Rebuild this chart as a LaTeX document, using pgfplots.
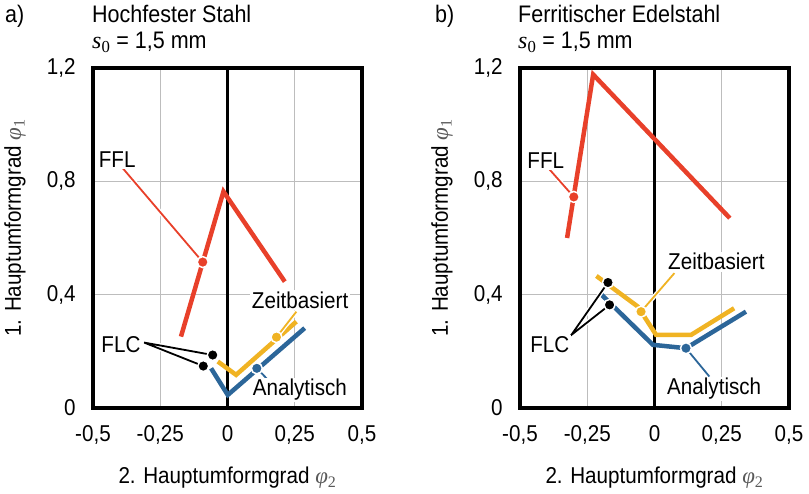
\documentclass[border=0pt]{standalone}
\usepackage{pgfplots}
\pgfplotsset{compat=1.18}
\usepackage{fontspec}
\setmainfont{Liberation Sans}[FakeStretch=0.9]
\newfontfamily\serif{Liberation Serif}
\definecolor{cred}{HTML}{E8402A}
\definecolor{cyel}{HTML}{F0B323}
\definecolor{cblue}{HTML}{2C6699}
\definecolor{cgrid}{HTML}{BDBDBD}
\newcommand\fs{\fontsize{23}{27}\selectfont}
\newcommand\ft{\fontsize{24}{28}\selectfont}
\newcommand\phisym[1]{{\serif\itshape\color{black!65}φ}{\serif\color{black!65}\textsubscript{#1}}}
\tikzset{lab/.style={font=\fs, fill=white, inner sep=1.5bp}}
\pgfplotsset{
 panel/.style={
  width=269bp, height=340bp, scale only axis,
  xmin=-0.5, xmax=0.5, ymin=0, ymax=1.2,
  xtick={-0.5,-0.25,0,0.25,0.5},
  xticklabels={{-0,5},{-0,25},{0},{0,25},{0,5}},
  ytick={0,0.4,0.8,1.2},
  yticklabels={{0},{0,4},{0,8},{1,2}},
  grid=major, major grid style={cgrid, line width=1.3bp},
  major tick length=0pt,
  axis line style={line width=4bp, black},
  tick label style={font=\fs},
  xticklabel style={yshift=-14bp},
  yticklabel style={xshift=-14bp},
  label style={font=\fs},
  xlabel={2. Hauptumformgrad \phisym{2}},
  ylabel={1. Hauptumformgrad \phisym{1}},
  xlabel style={at={(axis description cs:0.5,-0.205)}, anchor=center},
  ylabel style={at={(axis description cs:-0.29,0.53)}, anchor=center},
  clip=false,
 },
 zero/.style={black, line width=3bp, forget plot},
 curve/.style={line width=4.5bp, forget plot},
 leader/.style={line width=1.8bp, forget plot, preaction={draw=white, line width=4.5bp}},
 dot/.style={only marks, mark=*, mark size=5.5bp, forget plot, mark options={fill=#1, draw=white, line width=1.5bp}},
}
\begin{document}
\begin{tikzpicture}
% ---------------- panel a ----------------
\begin{axis}[panel, at={(93bp,86bp)}, anchor=south west]
\addplot[zero] coordinates {(0,0) (0,1.2)};
\addplot[curve, cred] coordinates {(-0.173,0.252) (-0.015,0.764) (0.213,0.446)};
\addplot[curve, cblue] coordinates {(-0.061,0.140) (0.001,0.046) (0.287,0.282)};
\addplot[curve, cyel] coordinates {(-0.036,0.164) (0.032,0.117) (0.256,0.305)};
\addplot[leader, cred] coordinates {(-0.092,0.515) (-0.39,0.847)};
\addplot[leader, cyel] coordinates {(0.182,0.250) (0.256,0.34)};
\addplot[leader, cblue] coordinates {(0.109,0.140) (0.157,0.093)};
\addplot[leader, black] coordinates {(-0.055,0.187) (-0.31,0.231) (-0.09,0.148)};
\addplot[dot=cred] coordinates {(-0.092,0.515)};
\addplot[dot=cyel] coordinates {(0.182,0.250)};
\addplot[dot=cblue] coordinates {(0.109,0.140)};
\addplot[dot=black] coordinates {(-0.055,0.187) (-0.09,0.148)};
\node[lab] at (axis cs:-0.41,0.876) {FFL};
\node[lab] at (axis cs:0.27,0.38) {Zeitbasiert};
\node[lab] at (axis cs:0.269,0.064) {Analytisch};
\node[lab] at (axis cs:-0.396,0.223) {FLC};
\end{axis}
% ---------------- panel b ----------------
\begin{axis}[panel, at={(520bp,86bp)}, anchor=south west]
\addplot[zero] coordinates {(0,0) (0,1.2)};
\addplot[curve, cred] coordinates {(-0.325,0.60) (-0.228,1.177) (0.28,0.67)};
\addplot[curve, cyel] coordinates {(-0.216,0.466) (-0.062,0.358) (0.006,0.258) (0.136,0.258) (0.296,0.352)};
\addplot[curve, cblue] coordinates {(-0.197,0.40) (-0.006,0.223) (0.117,0.211) (0.34,0.34)};
\addplot[leader, cred] coordinates {(-0.30,0.745) (-0.395,0.847)};
\addplot[leader, cyel] coordinates {(-0.05,0.340) (0.074,0.476)};
\addplot[leader, cblue] coordinates {(0.117,0.211) (0.204,0.111)};
\addplot[leader, black] coordinates {(-0.173,0.443) (-0.309,0.258) (-0.167,0.364)};
\addplot[dot=cred] coordinates {(-0.30,0.745)};
\addplot[dot=cyel] coordinates {(-0.05,0.340)};
\addplot[dot=cblue] coordinates {(0.117,0.211)};
\addplot[dot=black] coordinates {(-0.173,0.443) (-0.167,0.364)};
\node[lab] at (axis cs:-0.404,0.873) {FFL};
\node[lab] at (axis cs:0.23,0.516) {Zeitbasiert};
\node[lab] at (axis cs:0.222,0.067) {Analytisch};
\node[lab] at (axis cs:-0.389,0.223) {FLC};
\end{axis}
% ---------------- titles ----------------
\begin{scope}[every node/.style={anchor=base west, inner sep=0pt, font=\ft}]
\node at (5bp,471bp) {a)};
\node at (92bp,471bp) {Hochfester Stahl};
\node at (92bp,445bp) {{\serif\itshape s}{\serif\textsubscript{0}} = 1,5 mm};
\node at (435bp,471bp) {b)};
\node at (518bp,471bp) {Ferritischer Edelstahl};
\node at (518bp,445bp) {{\serif\itshape s}{\serif\textsubscript{0}} = 1,5 mm};
\end{scope}
\pgfresetboundingbox
\path (0bp,0bp) rectangle (809bp,494bp);
\end{tikzpicture}
\end{document}
